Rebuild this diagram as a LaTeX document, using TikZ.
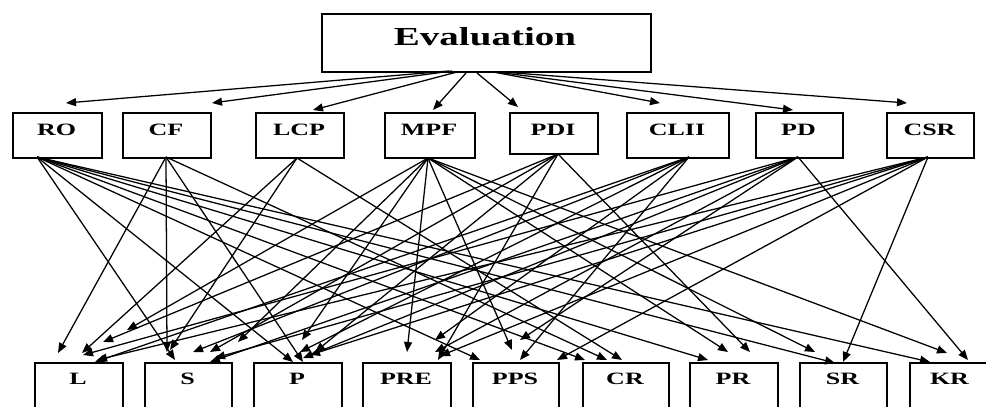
\documentclass[tikz,border=0pt]{standalone}
\usepackage{fontspec}
\newfontfamily\figfont[FakeStretch=1.5]{Liberation Serif}
\usetikzlibrary{arrows.meta}
\begin{document}
\begin{tikzpicture}[x=0.75pt,y=-0.75pt,
  box/.style={draw,line width=1.4pt,inner sep=0pt,anchor=north west},
  lab/.style={font=\figfont\bfseries\fontsize{13}{15}\selectfont,inner sep=0pt},
  arr/.style={line width=0.95pt,-{Triangle[length=7.5pt,width=6pt]}}]
\useasboundingbox (0,0) rectangle (986,407);
\clip (0,0) rectangle (986,407);
% top node
\node[box,minimum width=329*0.75pt,minimum height=58*0.75pt] (Ev) at (321,13) {};
\node[font=\figfont\bfseries\fontsize{19.5}{22}\selectfont,inner sep=0pt] (EvT) at (485,37) {Evaluation};
% middle nodes
\foreach \n/\xa/\xb/\yb in {RO/12/101/157,CF/122/210/157,LCP/255/343/157,MPF/384/474/157,PDI/509/597/153,CLII/626/728/157,PD/755/842/157,CSR/886/973/157}{
  \node[box,minimum width=(\xb-\xa)*0.75pt,minimum height=(\yb-112)*0.75pt] (\n) at (\xa,112) {};
  \node[lab] (\n T) at ({(\xa+\xb)/2},130) {\n};
}
% bottom nodes
\foreach \n/\xa/\xb in {L/34/122,S/144/231,P/253/341,PRE/362/450,PPS/472/558,CR/582/668,PR/689/777,SR/799/886,KR/909/990}{
  \node[box,minimum width=(\xb-\xa)*0.75pt,minimum height=70*0.75pt] (\n) at (\xa,362) {};
  \node[lab] (\n T) at ({(\xa+\xb)/2},379) {\n};
}
% evaluation arrows
\foreach \n/\sx/\sy/\tx/\ty in {RO/449/71/66/103,CF/452/71/212/103,LCP/457/72/313/110,MPF/466/73/433/110,PDI/477/73/518/107,CLII/493/72/660/103,PD/496/72/793/110,CSR/502/72/907/103}{
  \coordinate (es\n) at (\sx,\sy);
  \coordinate (et\n) at (\tx,\ty);
  \draw[arr] (es\n) -- (et\n);
}
% sources
\coordinate (sRO) at (37,157);
\coordinate (sCF) at (166,157);
\coordinate (sLCP) at (297,158);
\coordinate (sMPF) at (428,158);
\coordinate (sPDI) at (558,154);
\coordinate (sCLII) at (689,157);
\coordinate (sPD) at (798,157);
\coordinate (sCSR) at (928,157);
% links
\foreach \s/\tx/\ty [count=\i] in {
 RO/175/360, RO/293/362, RO/480/360, RO/585/360, RO/708/360, RO/835/363, RO/930/362,
 CF/58/353, CF/167/352, CF/303/362, CF/607/360,
 LCP/82/353, LCP/170/350, LCP/622/360,
 MPF/127/330, MPF/238/342, MPF/302/340, MPF/407/352, MPF/512/350, MPF/728/352, MPF/815/352, MPF/947/353,
 PDI/103/342, PDI/210/352, PDI/315/352, PDI/438/360, PDI/750/352,
 CLII/95/362, CLII/193/352, CLII/300/352, CLII/435/340, CLII/520/360,
 PD/83/355, PD/210/362, PD/303/358, PD/435/352, PD/520/340, PD/968/360,
 CSR/97/360, CSR/215/358, CSR/310/355, CSR/440/356, CSR/557/360, CSR/843/362}{
  \coordinate (t\i) at (\tx,\ty);
  \draw[arr] (s\s) -- (t\i);
}
\end{tikzpicture}
\end{document}
